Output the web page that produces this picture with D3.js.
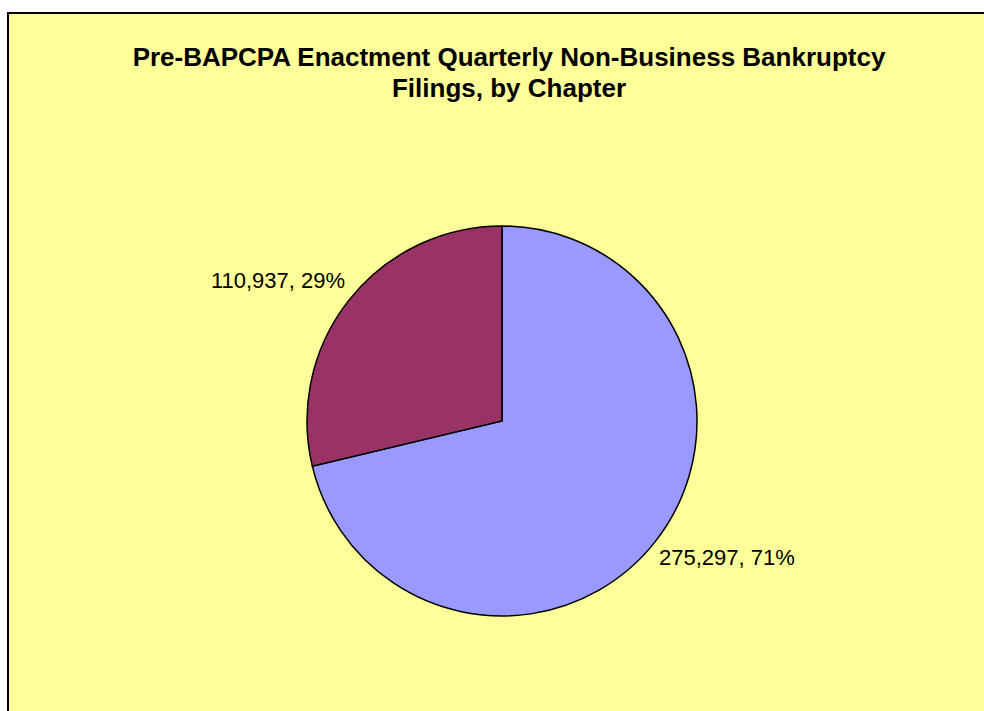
<!DOCTYPE html>
<html>
<head>
<meta charset="utf-8">
<script src="https://cdn.jsdelivr.net/npm/d3@7"></script>
<style>
  html, body { margin: 0; padding: 0; background: #ffffff; overflow: hidden; }
  svg { display: block; }
</style>
</head>
<body>
<div id="chart"></div>
<script>
// data
var chapters = ["Chapter 7", "Chapter 13"];
var filings = [275297, 110937];
var sliceColors = ["#9999FF", "#993366"];
var titleLines = ["Pre-BAPCPA Enactment Quarterly Non-Business Bankruptcy", "Filings, by Chapter"];

var width = 984, height = 711;
var cx = 502, cy = 421, radius = 195;

var svg = d3.select("#chart")
    .append("svg")
    .attr("width", width)
    .attr("height", height);

// chart area, right and bottom edges run off the page
svg.append("rect")
    .attr("x", 8)
    .attr("y", 13)
    .attr("width", 1100)
    .attr("height", 800)
    .attr("fill", "#FFFF99")
    .attr("stroke", "black")
    .attr("stroke-width", 2);

svg.append("g")
    .selectAll("text")
    .data(titleLines)
    .enter()
    .append("text")
    .attr("x", 509)
    .attr("y", function(d, i){ return 66 + i * 31; })
    .attr("text-anchor", "middle")
    .attr("font-family", "Liberation Sans, Arial, sans-serif")
    .attr("font-weight", "bold")
    .attr("font-size", 26)
    .attr("fill", "black")
    .text(function(d){ return d; });

var total = d3.sum(filings);
var pieData = filings.map(function(v, i){
    return { name: chapters[i], value: v, color: sliceColors[i] };
});

var pie = d3.pie()
    .sort(null)
    .value(function(d){ return d.value; });

var arc = d3.arc()
    .innerRadius(0)
    .outerRadius(radius);

var g = svg.append("g")
    .attr("transform", "translate(" + cx + "," + cy + ")");

var arcs = pie(pieData);

g.selectAll("path")
    .data(arcs)
    .enter()
    .append("path")
    .attr("d", arc)
    .attr("fill", function(d){ return d.data.color; })
    .attr("stroke", "black")
    .attr("stroke-width", 1.5)
    .attr("stroke-linejoin", "miter");

var fmt = d3.format(",");
g.selectAll("text")
    .data(arcs)
    .enter()
    .append("text")
    .attr("transform", function(d){
        var a = (d.startAngle + d.endAngle) / 2;
        var r = radius + 5;
        return "translate(" + (Math.sin(a) * r) + "," + (-Math.cos(a) * r) + ")";
    })
    .attr("dy", function(d){
        var a = (d.startAngle + d.endAngle) / 2;
        return -Math.cos(a) > 0 ? "0.9em" : "-0.4em";
    })
    .attr("text-anchor", function(d){
        var a = (d.startAngle + d.endAngle) / 2;
        return Math.sin(a) > 0 ? "start" : "end";
    })
    .attr("font-family", "Liberation Sans, Arial, sans-serif")
    .attr("font-size", 22)
    .attr("fill", "black")
    .text(function(d){
        return fmt(d.data.value) + ", " + Math.round(d.data.value / total * 100) + "%";
    });
</script>
</body>
</html>
